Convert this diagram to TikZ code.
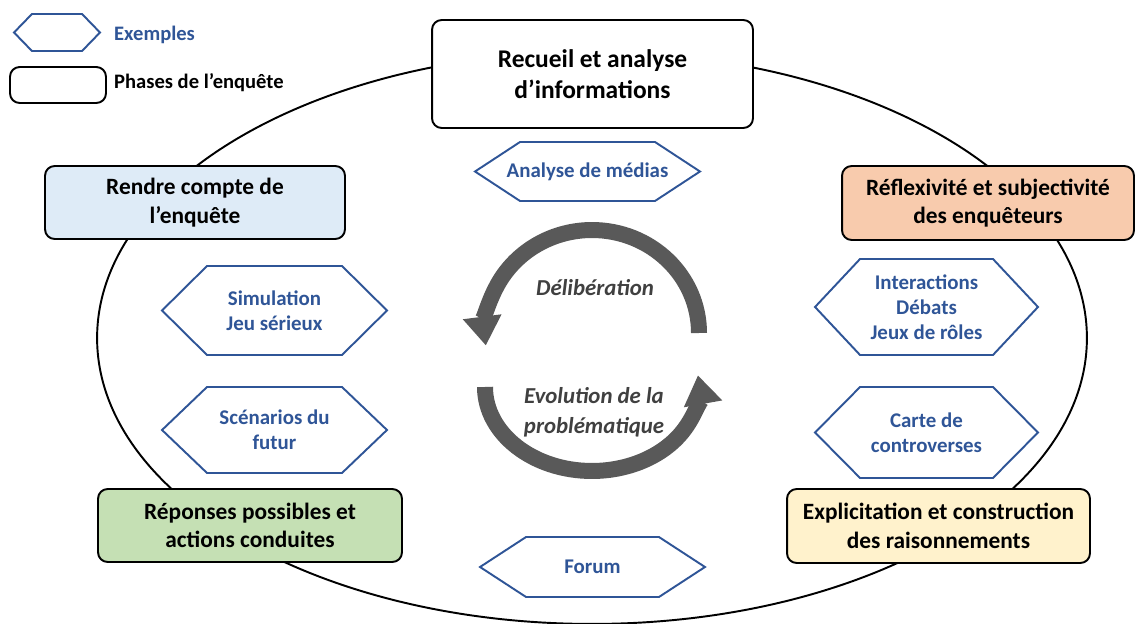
\documentclass[tikz,border=0pt]{standalone}
\usepackage{fontspec}
\setmainfont{Carlito}
\usetikzlibrary{shapes.symbols,arrows.meta}

\definecolor{exblue}{HTML}{2F5597}
\definecolor{cyclegray}{HTML}{595959}
\definecolor{phaseblue}{HTML}{DEEBF7}
\definecolor{phasepeach}{HTML}{F8CBAD}
\definecolor{phasegreen}{HTML}{C5E0B4}
\definecolor{phaseyellow}{HTML}{FFF2CC}

\begin{document}
\begin{tikzpicture}[x=0.02cm,y=-0.02cm,
  phase/.style={draw, line width=1.1pt, rounded corners=5.5pt, align=center,
    inner sep=0pt, font=\fontsize{13.3}{16.2}\selectfont\bfseries},
  exemple/.style={shape=signal, signal to=west and east, signal pointer angle=#1,
    draw=exblue, line width=1.1pt, text=exblue, align=center, inner sep=0pt,
    font=\fontsize{11.9}{14.2}\selectfont\bfseries},
  cyclearrow/.style={line width=0.32cm, draw=cyclegray,
    -{Triangle[length=0.58cm,width=0.74cm]}},
  cycletext/.style={text=black!75, align=center,
    font=\fontsize{13}{17}\selectfont\bfseries\itshape}]
\useasboundingbox (0,0) rectangle (1135,624);

\draw[line width=1.1pt] (592,338) ellipse [x radius=9.9cm, y radius=5.72cm];

% legende
\node[exemple=91.7, minimum width=1.72cm, minimum height=0.74cm] (legex) at (57,32.5) {};
\node[anchor=west, text=exblue, font=\fontsize{11.7}{14}\selectfont\bfseries] (legextxt) at (108,35) {Exemples};
\node[phase, minimum width=1.92cm, minimum height=0.72cm] (legph) at (58,85) {};
\node[anchor=west, font=\fontsize{11.7}{14}\selectfont\bfseries] (legphtxt) at (108,83) {Phases de l’enquête};

% phases
\node[phase, fill=white, minimum width=6.42cm, minimum height=2.16cm,
  font=\fontsize{14.5}{17.6}\selectfont\bfseries] (recueil) at (592.5,74) {Recueil et analyse\\d’informations};
\node[phase, fill=phaseblue, minimum width=6.0cm, minimum height=1.46cm] (rendre) at (195,202.5) {Rendre compte de\\l’enquête};
\node[phase, fill=phasepeach, minimum width=5.84cm, minimum height=1.48cm] (reflex) at (988,203) {Réflexivité et subjectivité\\des enquêteurs};
\node[phase, fill=phasegreen, minimum width=6.08cm, minimum height=1.46cm] (reponses) at (250,525.5) {Réponses possibles et\\actions conduites};
\node[phase, fill=phaseyellow, minimum width=6.06cm, minimum height=1.48cm] (explic) at (938.5,526) {Explicitation et construction\\des raisonnements};

% exemples
\node[exemple=66.5, minimum width=4.5cm, minimum height=1.18cm, inner xsep=-0.27cm] (medias) at (587.5,171.5) {Analyse de médias};
\node[exemple=89.4, minimum width=4.5cm, minimum height=1.78cm] (simul) at (274.5,310.5) {Simulation\\Jeu sérieux};
\node[exemple=87.4, minimum width=4.5cm, minimum height=1.72cm] (scenar) at (274.5,430) {Scénarios du\\futur};
\node[exemple=93.7, minimum width=4.46cm, minimum height=1.92cm] (interact) at (926.5,307) {Interactions\\Débats\\Jeux de rôles};
\node[exemple=90.6, minimum width=4.46cm, minimum height=1.82cm] (carte) at (926.5,432.5) {Carte de\\controverses};
\node[exemple=66.2, minimum width=4.5cm, minimum height=1.2cm] (forum) at (592.5,567) {Forum};

% cycle
\coordinate (delibstart) at (699,333);
\coordinate (evolstart) at (485,387);
\draw[cyclearrow] (delibstart) arc[start angle=0, end angle=187, x radius=2.14cm, y radius=2.06cm];
\draw[cyclearrow] (evolstart) arc[start angle=180, end angle=368, x radius=2.14cm, y radius=1.68cm];
\node[cycletext] (delib) at (595,288) {Délibération};
\node[cycletext] (evol) at (594,412) {Evolution de la\\problématique};
\end{tikzpicture}
\end{document}
